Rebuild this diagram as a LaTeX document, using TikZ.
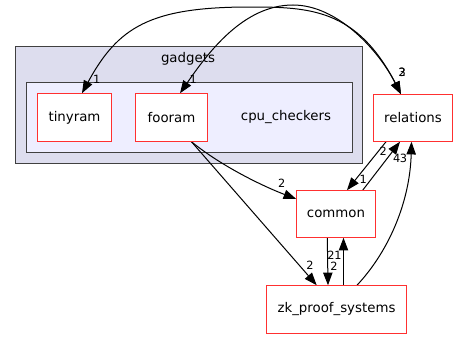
\documentclass[tikz,border=0pt]{standalone}
\usepackage{fontspec}
\setmainfont{DejaVu Sans}
\usetikzlibrary{arrows.meta,calc}
\definecolor{outerfill}{HTML}{DDDDEE}
\definecolor{innerfill}{HTML}{EEEEFF}
\definecolor{clusterline}{HTML}{404040}
\definecolor{dirline}{HTML}{FF3030}
\begin{document}
\begin{tikzpicture}[x=0.75pt,y=-0.75pt,
  dirbox/.style={fill=white, inner sep=0pt,
    minimum height=36pt, font=\fontsize{10}{12}\selectfont},
  dirframe/.style={draw=dirline, line width=1pt},
  cluster/.style={draw=clusterline, line width=1pt, inner sep=0pt},
  dep/.style={line width=0.75pt, -{Triangle[length=9.5pt,width=7pt]}},
  mutual/.style={line width=0.75pt, {Triangle[length=9.5pt,width=7pt]}-{Triangle[length=9.5pt,width=7pt]}},
  lbl/.style={font=\fontsize{8.5}{10}\selectfont, inner sep=0pt}]
\useasboundingbox (0,0) rectangle (458,339);

% clusters
\node[cluster, fill=outerfill, minimum width=260.25pt, minimum height=87.75pt] (gadgets) at (189,105) {};
\node[font=\fontsize{10}{12}\selectfont] (gadgetstitle) at (188,59) {gadgets};
\node[cluster, fill=innerfill, minimum width=244.5pt, minimum height=52.5pt] (cpu) at (189.5,117.5) {};
\node[font=\fontsize{10}{12}\selectfont] (cputitle) at (286,117) {cpu\_checkers};

% directories
\node[dirbox, minimum width=55.5pt] (tinyram) at (74.5,117.5) {tinyram};
\node[dirbox, minimum width=54pt] (fooram) at (171.5,117.5) {fooram};
\node[dirbox, minimum width=59.25pt, minimum height=35.25pt] (relations) at (413,118) {relations};
\node[dirbox, minimum width=59.25pt, minimum height=35.25pt] (common) at (336,214) {common};
\node[dirbox, minimum width=105pt] (zk) at (336.5,309.5) {zk\_proof\_systems};

% dependencies
\draw[mutual] ($(tinyram.north)+(7.5,0)$) .. controls (118,27) and (150,7) .. (250,7)
  .. controls (310,7) and (357,9) .. ($(relations.north)+(-12,0)$);
\draw[mutual] ($(fooram.north)+(8.5,0)$) .. controls (207.6,53.4) and (243,5) .. (293,5)
  .. controls (338,5) and (379,51) .. ($(relations.north)+(-12,0)$);
\draw[dep] ($(fooram.south)+(20,0)$) .. controls (220,165) and (260,185) .. ($(common.west)+(0,-15)$);
\draw[dep] ($(fooram.south)+(20,0)$) -- ($(zk.north)+(-19.8,0)$);
\draw[dep] ($(relations.south)+(-27,0)$) -- ($(common.north)+(11,0)$);
\draw[dep] ($(common.north)+(26.7,0)$) -- ($(relations.south)+(-13,0)$);
\draw[dep] ($(zk.north)+(20.5,0)$) .. controls (390,250) and (410,200) .. ($(relations.south)+(-1.5,0)$);
\draw[dep] ($(common.south)+(-8.7,0)$) -- ($(zk.north)+(-8.5,0)$);
\draw[dep] ($(zk.north)+(7,0)$) -- ($(common.south)+(7.5,0)$);

% directory frames
\foreach \d in {tinyram,fooram,relations,common,zk}
  \draw[dirframe] (\d.south west) rectangle (\d.north east);

% edge counts
\node[lbl] (c1) at (96.7,79) {1};
\node[lbl] (c2) at (193.3,79) {1};
\node[lbl] (c3) at (402.3,72) {3};
\node[lbl] (c4) at (402.3,72) {2};
\node[lbl] (c5) at (281.7,183.3) {2};
\node[lbl] (c6) at (310,265) {2};
\node[lbl] (c7) at (383.3,151.7) {2};
\node[lbl] (c8) at (396.7,158) {4};
\node[lbl] (c9) at (403.5,158) {3};
\node[lbl] (c10) at (363.3,179.3) {1};
\node[lbl] (c11) at (331,255) {2};
\node[lbl] (c12) at (338,255) {1};
\node[lbl] (c13) at (334,266) {2};
\end{tikzpicture}
\end{document}
